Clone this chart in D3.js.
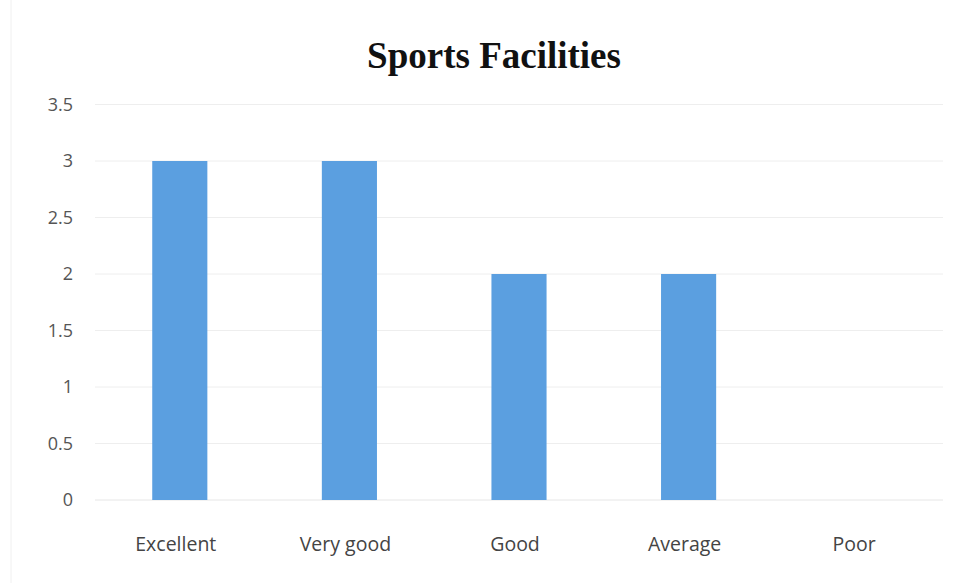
<!DOCTYPE html>
<html>
<head>
<meta charset="utf-8">
<script src="https://cdn.jsdelivr.net/npm/d3@7"></script>
<style>
  html, body { margin: 0; padding: 0; background: #fff; }
  svg { display: block; }
</style>
</head>
<body>
<svg id="chart" width="961" height="583"></svg>
<script>
const categories = ["Excellent", "Very good", "Good", "Average", "Poor"];
const values = [3, 3, 2, 2, 0];
const yTicks = [0, 0.5, 1, 1.5, 2, 2.5, 3, 3.5];
const title = "Sports Facilities";

(function () {
const svg = d3.select("#chart");
const W = 961, H = 583;
const pLeft = 95, pRight = 943, pTop = 104.5, pBottom = 500;
const labelFont = "'Open Sans', 'DejaVu Sans', sans-serif";

const x = d3.scaleBand().domain(categories).range([pLeft, pRight])
  .paddingInner(0.675).paddingOuter(0.3375);
const y = d3.scaleLinear().domain([0, 3.5]).range([pBottom, pTop]);

// faint left scan border
svg.append("line").attr("x1", 11).attr("x2", 11).attr("y1", 0).attr("y2", H)
  .attr("stroke", "#f0f0f0").attr("stroke-width", 1);

// gridlines
svg.append("g").selectAll("line").data(yTicks.filter(d => d > 0)).join("line")
  .attr("x1", pLeft).attr("x2", pRight)
  .attr("y1", d => y(d)).attr("y2", d => y(d))
  .attr("stroke", "#eeeeee").attr("stroke-width", 1);

// baseline
svg.append("line").attr("x1", pLeft).attr("x2", pRight)
  .attr("y1", y(0)).attr("y2", y(0))
  .attr("stroke", "#e6e6e6").attr("stroke-width", 1);

// y axis labels
const yAxis = d3.axisLeft(y).tickValues(yTicks).tickSize(0).tickPadding(0)
  .tickFormat(d => String(d));
const gy = svg.append("g").attr("transform", `translate(73,0)`).call(yAxis);
gy.select(".domain").remove();
gy.selectAll("text").attr("font-family", labelFont)
  .attr("font-size", 18).attr("fill", "#555");

// bars
svg.append("g").selectAll("rect").data(categories).join("rect")
  .attr("x", d => x(d))
  .attr("y", (d, i) => y(values[i]))
  .attr("width", x.bandwidth())
  .attr("height", (d, i) => y(0) - y(values[i]))
  .attr("fill", "#5b9fe0");

// x labels
const xAxis = d3.axisBottom(x).tickSize(0).tickPadding(0);
const gx = svg.append("g").attr("transform", `translate(-4,${pBottom + 37})`).call(xAxis);
gx.select(".domain").remove();
gx.selectAll("text").attr("font-family", labelFont)
  .attr("font-size", 19.5).attr("fill", "#444");

// title
svg.append("text").attr("x", 494).attr("y", 68).attr("text-anchor", "middle")
  .attr("font-family", "'Liberation Serif', 'Times New Roman', serif")
  .attr("font-weight", "bold").attr("font-size", 37).attr("fill", "#111")
  .text(title);
})();
</script>
</body>
</html>
